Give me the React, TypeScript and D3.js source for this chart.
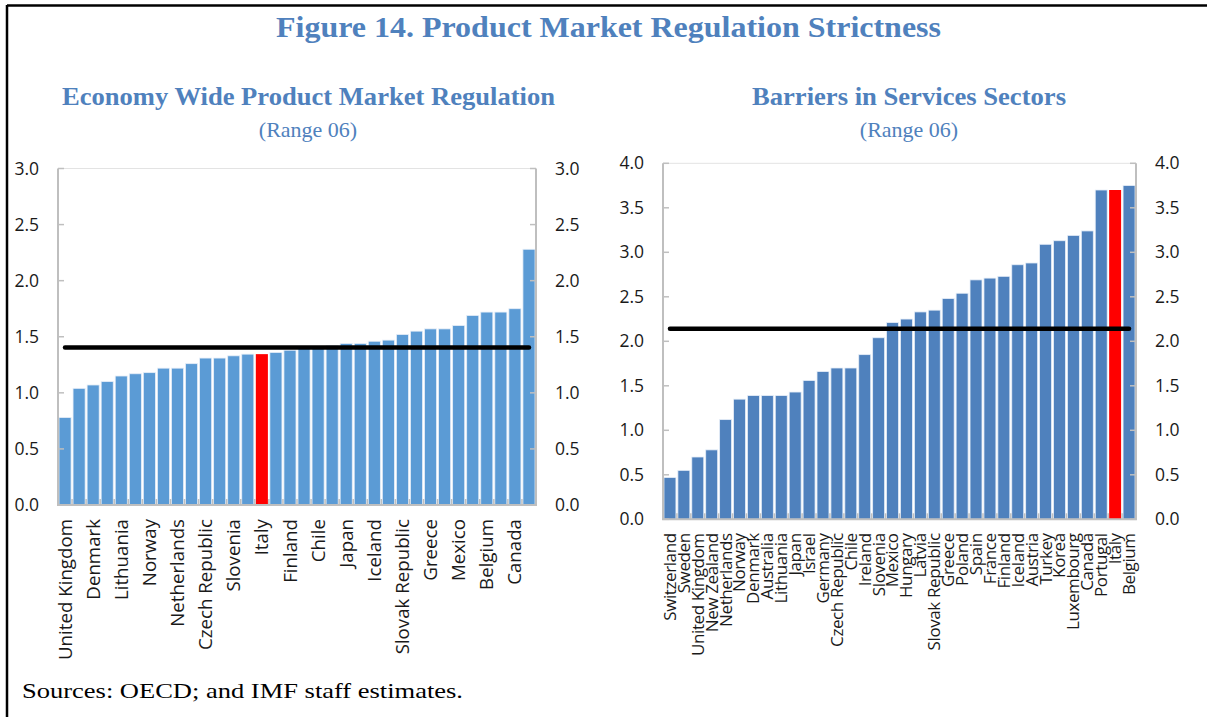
import React from 'react';
import * as d3 from 'd3';

const leftLabels = ["United Kingdom","","Denmark","","Lithuania","","Norway","","Netherlands","","Czech Republic","","Slovenia","","Italy","","Finland","","Chile","","Japan","","Iceland","","Slovak Republic","","Greece","","Mexico","","Belgium","","Canada",""];
const leftValues = [0.78,1.04,1.07,1.10,1.15,1.17,1.18,1.22,1.22,1.26,1.31,1.31,1.33,1.345,1.345,1.36,1.38,1.40,1.40,1.42,1.44,1.44,1.46,1.47,1.52,1.55,1.57,1.57,1.60,1.69,1.72,1.72,1.75,2.28];
const leftAverage = 1.405;
const leftTicks = [0,0.5,1,1.5,2,2.5,3];
const leftHighlight = "Italy";

const rightLabels = ["Switzerland","Sweden","United Kingdom","New Zealand","Netherlands","Norway","Denmark","Australia","Lithuania","Japan","Israel","Germany","Czech Republic","Chile","Ireland","Slovenia","Mexico","Hungary","Latvia","Slovak Republic","Greece","Poland","Spain","France","Finland","Iceland","Austria","Turkey","Korea","Luxembourg","Canada","Portugal","Italy","Belgium"];
const rightValues = [0.47,0.55,0.70,0.78,1.12,1.35,1.39,1.39,1.39,1.43,1.56,1.66,1.70,1.70,1.85,2.04,2.21,2.25,2.33,2.35,2.48,2.54,2.69,2.71,2.73,2.86,2.88,3.09,3.13,3.19,3.24,3.70,3.70,3.75];
const rightAverage = 2.14;
const rightTicks = [0,0.5,1,1.5,2,2.5,3,3.5,4];
const rightHighlight = "Italy";

const AXIS = "#BFBFBF";
const TITLE = "#4F81BD";
const SANS = "'Open Sans', 'Noto Sans', sans-serif";
const SERIF = "'Liberation Serif', 'Times New Roman', serif";

type PanelProps = {
  labels: string[]; values: number[]; avg: number; ticks: number[]; highlight: string;
  x0: number; x1: number; yTop: number; yBottom: number; max: number; color: string;
  labelSize: number; labelSpacing: number; labelGap: number;
};

function Panel(p: PanelProps) {
  const idx = p.values.map((_, i) => i);
  const x = d3.scaleBand<number>().domain(idx).range([p.x0, p.x1]).paddingInner(0.14).paddingOuter(0.07);
  const xs = d3.scaleBand<number>().domain(idx).range([p.x0, p.x1]);
  const y = d3.scaleLinear().domain([0, p.max]).range([p.yBottom, p.yTop]);
  const fmt = d3.format('.1f');
  const n = idx.length;
  return (
    <g>
      {idx.map(i => (
        <rect key={i} x={x(i)} y={y(p.values[i])} width={x.bandwidth()} height={y(0) - y(p.values[i])}
          fill={p.labels[i] === p.highlight ? '#FF0000' : p.color}
          stroke={p.labels[i] === p.highlight ? 'none' : '#E6EEF8'} strokeWidth={0.8} />
      ))}
      <line x1={p.x0} x2={p.x0} y1={p.yTop} y2={p.yBottom} stroke={AXIS} strokeWidth={2} />
      <line x1={p.x1} x2={p.x1} y1={p.yTop} y2={p.yBottom} stroke={AXIS} strokeWidth={2} />
      <line x1={p.x0} x2={p.x1} y1={p.yTop} y2={p.yTop} stroke="#E3E3E3" strokeWidth={1} />
      <line x1={p.x0 - 1} x2={p.x1 + 1} y1={p.yBottom} y2={p.yBottom} stroke={AXIS} strokeWidth={2} />
      {p.ticks.map(t => (
        <g key={t}>
          <line x1={p.x0} x2={p.x0 + 6} y1={y(t)} y2={y(t)} stroke={AXIS} strokeWidth={1.5} />
          <line x1={p.x1 - 6} x2={p.x1} y1={y(t)} y2={y(t)} stroke={AXIS} strokeWidth={1.5} />
          <text x={p.x0 - 19} y={y(t)} dy="0.35em" textAnchor="end" fontFamily={SANS} fontSize={17.5} fill="#1a1a1a">{fmt(t)}</text>
          <text x={p.x1 + 19} y={y(t)} dy="0.35em" textAnchor="start" fontFamily={SANS} fontSize={17.5} fill="#1a1a1a">{fmt(t)}</text>
        </g>
      ))}
      {d3.range(1, n).map(k => (
        <line key={k} x1={xs(k)} x2={xs(k)} y1={p.yBottom} y2={p.yBottom - 6} stroke={AXIS} strokeWidth={1.5} />
      ))}
      <line x1={(x(0) as number) + x.bandwidth() / 2} x2={(x(n - 1) as number) + x.bandwidth() / 2}
        y1={y(p.avg)} y2={y(p.avg)} stroke="#000" strokeWidth={4.5} strokeLinecap="round" />
      {idx.map(i => p.labels[i] ? (
        <text key={i} transform={`translate(${(xs(i) as number) + xs.bandwidth() / 2},${p.yBottom + p.labelGap}) rotate(-90)`}
          dy="0.35em" textAnchor="end" fontFamily={SANS} fontSize={p.labelSize} letterSpacing={p.labelSpacing} fill="#1a1a1a">{p.labels[i]}</text>
      ) : null)}
    </g>
  );
}

export default function App() {
  return (
    <svg width={1207} height={717} style={{ position: 'absolute', left: 0, top: 0, background: '#fff' }}>
      <rect x={0} y={0} width={1207} height={717} fill="#fff" />
      <line x1={7} x2={1207} y1={5.5} y2={5.5} stroke="#000" strokeWidth={2.5} />
      <line x1={7} x2={7} y1={5} y2={717} stroke="#000" strokeWidth={2.5} />
      <text x={276} y={37} textLength={665} lengthAdjust="spacingAndGlyphs" fontFamily={SERIF} fontWeight="bold" fontSize={30} fill={TITLE}>Figure 14. Product Market Regulation Strictness</text>
      <text x={62} y={105} textLength={493} lengthAdjust="spacingAndGlyphs" fontFamily={SERIF} fontWeight="bold" fontSize={26} fill={TITLE}>Economy Wide Product Market Regulation</text>
      <text x={308} y={137} textAnchor="middle" fontFamily={SERIF} fontSize={22} fill={TITLE}>(Range 06)</text>
      <text x={752} y={105} textLength={314} lengthAdjust="spacingAndGlyphs" fontFamily={SERIF} fontWeight="bold" fontSize={26} fill={TITLE}>Barriers in Services Sectors</text>
      <text x={909} y={137} textAnchor="middle" fontFamily={SERIF} fontSize={22} fill={TITLE}>(Range 06)</text>
      <Panel labels={leftLabels} values={leftValues} avg={leftAverage} ticks={leftTicks} highlight={leftHighlight}
        x0={58} x1={536} yTop={168.5} yBottom={505} max={3} color="#5B9BD5" labelSize={18.7} labelSpacing={0} labelGap={14} />
      <Panel labels={rightLabels} values={rightValues} avg={rightAverage} ticks={rightTicks} highlight={rightHighlight}
        x0={663} x1={1136} yTop={163.3} yBottom={519.3} max={4} color="#4F81BD" labelSize={17} labelSpacing={-0.4} labelGap={14} />
      <text x={22} y={698} textLength={441} lengthAdjust="spacingAndGlyphs" fontFamily={SERIF} fontSize={21.5} fill="#000">Sources: OECD; and IMF staff estimates.</text>
    </svg>
  );
}
